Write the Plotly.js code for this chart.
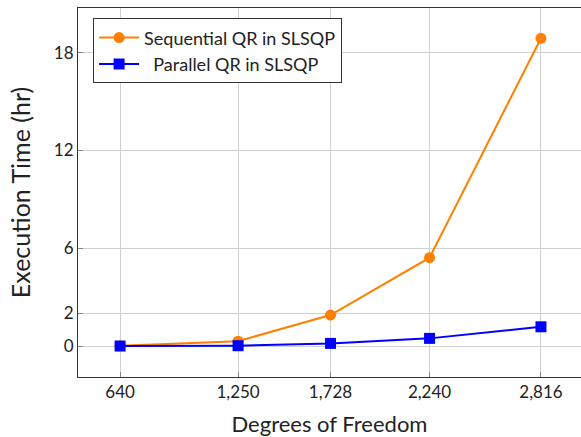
<!DOCTYPE html>
<html>
<head>
<meta charset="utf-8">
<script src="https://cdn.plot.ly/plotly-3.0.1.min.js"></script>
<style>html,body{margin:0;padding:0;background:#fff;}#chart{width:581px;height:437px;}</style>
</head>
<body>
<div id="chart"></div>
<script>
const dof = [640, 1250, 1728, 2240, 2816];
const dofLabels = ["640", "1,250", "1,728", "2,240", "2,816"];
const sequentialQR = [0.02, 0.3, 1.9, 5.42, 18.88];
const parallelQR = [0.0, 0.02, 0.16, 0.47, 1.18];
const yTicks = [0, 2, 6, 12, 18];

const FONT = "Lato, 'DejaVu Sans', sans-serif";

const traces = [
  {
    x: dof, y: sequentialQR, name: "Sequential QR in SLSQP",
    type: "scatter", mode: "lines+markers",
    line: {color: "#ff8000", width: 2},
    marker: {symbol: "circle", size: 11, color: "#ff8000"}
  },
  {
    x: dof, y: parallelQR, name: "  Parallel QR in SLSQP",
    type: "scatter", mode: "lines+markers",
    line: {color: "#0000ff", width: 2},
    marker: {symbol: "square", size: 11, color: "#0000ff"}
  }
];

const layout = {
  width: 581, height: 437,
  margin: {l: 78, r: 0, t: 8, b: 60},
  paper_bgcolor: "#fff", plot_bgcolor: "#fff",
  font: {family: FONT, color: "#222", size: 16},
  showlegend: true,
  legend: {
    x: 0.03, y: 0.972, xanchor: "left", yanchor: "top",
    bgcolor: "#fff", bordercolor: "#333", borderwidth: 1,
    font: {family: FONT, size: 18, color: "#222"},
    itemwidth: 40, tracegroupgap: 0
  },
  xaxis: {
    range: [422.4, 3023],
    tickvals: dof, ticktext: dofLabels,
    showgrid: true, gridcolor: "#d0d0d0", gridwidth: 1,
    zeroline: false,
    showline: true, linecolor: "#333", linewidth: 1, mirror: true,
    ticks: "inside", ticklen: 5, tickcolor: "#888",
    tickfont: {family: FONT, size: 17, color: "#222"},
    title: {text: "Degrees of Freedom", font: {family: FONT, size: 22, color: "#222"}, standoff: 16}
  },
  yaxis: {
    range: [-1.9, 20.74],
    tickvals: yTicks, ticktext: yTicks.map(String),
    showgrid: true, gridcolor: "#d0d0d0", gridwidth: 1,
    zeroline: false,
    showline: true, linecolor: "#333", linewidth: 1, mirror: false,
    ticks: "inside", ticklen: 5, tickcolor: "#888",
    tickfont: {family: FONT, size: 17, color: "#222"},
    title: {text: "Execution Time (hr)", font: {family: FONT, size: 25, color: "#222"}, standoff: 16}
  }
};

Plotly.newPlot("chart", traces, layout, {staticPlot: true, displayModeBar: false});
</script>
</body>
</html>
